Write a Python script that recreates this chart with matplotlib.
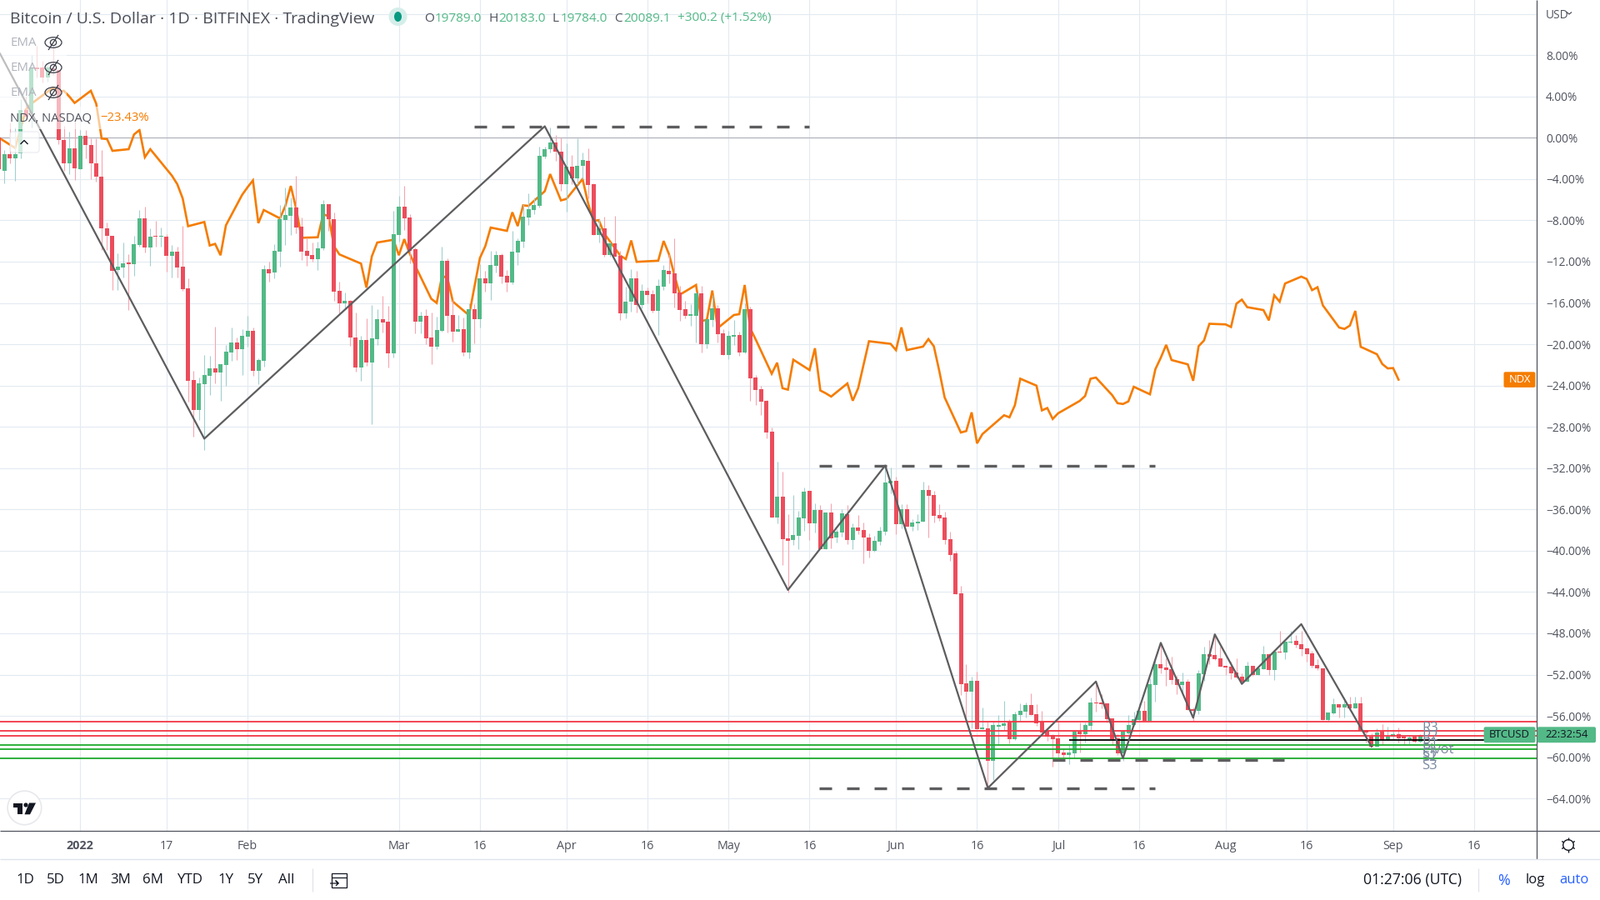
import numpy as np
import matplotlib
matplotlib.use("Agg")
import matplotlib.pyplot as plt
from matplotlib.patches import Rectangle, FancyBboxPatch, Circle, Ellipse, Polygon

# ---------- data (percent change, day 0 = 1 Jan 2022) ----------
first_day = -15
opens = [0,-3.18,-1.56,-2.02,-1.5,2.72,2.35,6.79,6.79,5.82,6.74,6.52,-0.19,-2.51,-1.0,-3.07,0.22,-0.67,-2.45,-3.75,-8.79,-9.51,-12.8,-12.53,-12.16,-12.21,-10.35,-7.79,-10.67,-9.57,-9.62,-9.57,-11.4,-11.02,-12.48,-14.58,-23.48,-26.36,
-23.84,-23.03,-22.34,-22.71,-21.99,-20.78,-19.84,-20.48,-19.27,-18.71,-22.58,-21.58,-12.75,-13.07,-11.06,-8.0,-7.6,-6.79,-8.64,-10.98,-11.38,-11.79,-10.74,-6.47,-7.92,-14.85,-16.05,-15.81,-19.36,-22.26,-19.6,-21.77,-19.52,-17.58,-17.83,
-20.89,-9.45,-6.71,-7.76,-10.82,-17.83,-17.26,-19.36,-20.24,-18.71,-11.95,-17.18,-18.79,-18.55,-20.81,-16.62,-17.58,-13.64,-14.12,-12.43,-11.38,-13.4,-14.04,-11.14,-10.09,-7.76,-7.03,
-6.6,-1.81,-1.11,-0.47,-1.31,-4.51,-2.84,-3.9,-2.7,-2.23,
-4.5,-9.43,-8.79,-11.37,-10.24,-11.46,-17.04,-15.9,-13.64,-16.23,-14.85,-15.18,-16.79,-14.45,-12.91,-13.15,-15.01,-16.63,-17.28,-17.28,-15.09,-20.03,-17.68,-16.55,-18.98,-21.08,-19.3,-19.14,-20.84,-16.63,
-23.24,-24.37,-25.5,-28.49,-36.81,-34.79,-38.83,-38.99,-38.58,-36.89,-34.22,-37.37,-36.08,-39.88,-36.32,-38.75,-38.26,-36.48,-38.99,-37.78,-38.02,-38.75,-40.04,-39.15,-38.18,-33.5,-33.25,-37.45,-36.0,-37.7,-37.37,-37.21,-34.14,
-34.64,-36.58,-36.82,-38.92,-40.29,-44.09,-52.81,-53.62,-52.57,-57.25,-57.17,-60.32,-57.01,-56.93,-56.52,-58.22,-55.88,-55.55,-54.91,-55.8,-56.52,-57.41,-57.81,-58.14,-59.51,-59.75,-59.59,-57.49,-57.73,-56.93,-54.67,-54.67,-54.75,-56.2,-58.14,-59.59,-57.65,
-56.86,-56.37,-55.48,-56.45,-52.98,-50.96,-51.28,-51.45,-52.41,-52.98,-52.66,-55.32,-55.48,-51.93,-49.99,-50.07,-50.4,-51.12,-51.2,-51.77,-52.17,-52.66,-51.12,-52.01,-51.45,-49.99,-51.53,-49.75,-49.83,-48.86,-48.7,-49.02,-49.43,-49.91,-51.04,-51.36,-56.37,-55.73,-54.84,-55.16,-54.84,-55.24,-54.76,-57.34,-57.99,-58.96,-57.5,-58.31,-57.99,-57.74,-57.99,-58.34,-58.01,-58.5]
closes = [-3.07,-1.56,-2.02,-1.56,2.72,2.08,6.79,6.68,5.82,6.79,6.52,-0.24,-2.51,-1.0,-2.99,0.22,-0.73,-2.51,-3.8,-8.81,-9.51,-12.86,-12.48,-12.16,-12.21,-10.32,-7.79,-10.67,-9.57,-9.62,-9.57,-11.4,-11.02,-12.53,-14.64,-23.53,-26.36,-23.8,
-22.98,-22.34,-22.71,-21.96,-20.72,-19.84,-20.48,-19.19,-18.71,-22.58,-21.53,-12.75,-13.13,-10.98,-7.92,-7.52,-6.79,-8.72,-11.06,-11.46,-11.79,-10.74,-6.47,-7.92,-14.93,-16.05,-15.81,-19.36,-22.26,-19.6,-21.77,-19.44,-17.58,-17.91,-20.89,
-9.37,-6.71,-7.84,-10.98,-17.83,-17.26,-19.44,-20.24,-18.63,-11.95,-17.26,-18.79,-18.55,-20.81,-16.62,-17.58,-13.64,-14.12,-12.35,-11.38,-13.48,-14.04,-11.06,-10.01,-7.68,-6.95,-6.55,
-1.75,-1.11,-0.47,-1.31,-4.51,-2.84,-3.9,-2.7,-2.17,-4.6,
-9.43,-8.79,-11.37,-10.24,-11.54,-17.04,-15.9,-13.64,-16.23,-14.85,-15.26,-16.79,-14.37,-12.83,-13.23,-15.09,-16.71,-17.28,-17.12,-15.09,-20.03,-17.6,-16.55,-19.06,-21.08,-19.22,-19.14,-20.84,-16.63,-23.34,
-24.45,-25.58,-28.57,-36.81,-34.79,-38.91,-39.07,-38.5,-36.81,-34.3,-37.37,-36.08,-39.88,-36.32,-38.83,-38.18,-36.4,-38.99,-37.78,-38.1,-38.75,-40.04,-39.07,-38.1,-33.42,-33.25,-37.45,-36.0,-37.7,-37.29,-37.21,-34.14,-34.71,
-36.66,-36.9,-39.0,-40.45,-44.17,-52.89,-53.62,-52.57,-57.25,-57.17,-60.32,-56.85,-56.85,-56.68,-58.22,-55.8,-55.47,-54.91,-55.88,-56.68,-57.57,-57.98,-58.22,-59.59,-59.75,-59.51,-57.49,-57.73,-56.85,-54.67,-54.75,-54.83,-56.28,-58.22,-59.59,-57.49,-56.85,
-56.29,-55.48,-56.45,-52.9,-50.96,-51.36,-51.53,-52.5,-52.98,-52.66,-55.4,-55.48,-51.85,-49.99,-50.23,-50.48,-51.2,-51.28,-51.85,-52.25,-52.66,-51.12,-52.01,-51.36,-49.99,-51.53,-49.75,-49.83,-48.78,-48.78,-49.1,-49.51,-49.99,-51.12,-51.36,-56.37,-55.64,-54.84,-55.16,-54.84,-55.24,-54.76,-57.42,-57.61,-58.96,-57.58,-58.31,-57.99,-57.74,-58.15,-58.15,-58.07,-58.5,-57.82]
highs = [0.2,-1.2,1.5,1.0,3.7,3.96,8.0,8.87,7.47,7.2,8.81,6.66,1.13,0.59,1.54,0.73,0.78,-0.03,-0.03,-1.16,-8.17,-9.51,-11.21,-10.13,-11.27,-9.49,-6.98,-6.66,-8.76,-8.03,-8.71,-9.3,-10.38,-10.59,-8.52,-13.61,-22.59,-23.26,
-21.05,-21.15,-18.28,-21.96,-20.08,-18.36,-19.36,-18.55,-17.26,-18.42,-21.37,-12.32,-11.97,-10.31,-6.55,-4.78,-5.8,-3.73,-7.76,-9.69,-10.17,-10.09,-6.07,-6.47,-7.28,-13.96,-15.01,-15.73,-16.94,-19.17,-17.5,-16.21,-16.62,-15.33,-16.3,
-7.09,-5.66,-4.62,-7.44,-10.66,-16.86,-16.62,-16.94,-17.34,-10.58,-11.7,-15.73,-17.18,-17.42,-16.05,-16.13,-12.24,-12.91,-10.98,-10.98,-11.22,-12.83,-9.05,-9.77,-6.47,-5.42,-5.8,
-0.9,-0.84,0.97,0.28,0.0,-0.56,-1.67,-0.06,-1.39,-1.06,
-4.42,-7.9,-7.65,-10.08,-7.57,-10.97,-14.45,-12.75,-12.91,-14.2,-14.53,-14.77,-13.72,-12.35,-11.29,-9.76,-14.37,-15.82,-16.15,-14.93,-14.37,-17.6,-15.26,-16.23,-18.57,-18.73,-17.68,-18.81,-16.06,-16.39,
-23.0,-24.05,-25.42,-28.09,-31.4,-32.37,-36.46,-34.63,-36.16,-33.9,-34.22,-35.43,-35.6,-36.32,-35.43,-37.94,-36.0,-35.6,-37.37,-36.57,-37.29,-38.34,-38.58,-37.7,-31.88,-31.96,-32.85,-35.52,-35.52,-36.97,-36.48,-33.34,-33.66,
-34.23,-35.53,-36.25,-38.19,-40.05,-43.44,-50.95,-52.16,-51.68,-55.15,-56.52,-56.44,-55.88,-54.5,-56.28,-55.55,-54.75,-54.67,-53.78,-54.83,-55.47,-57.17,-57.73,-56.52,-59.11,-58.7,-57.33,-56.6,-56.6,-54.18,-52.89,-53.86,-54.75,-56.2,-57.73,-57.33,-55.88,
-55.59,-54.78,-54.51,-52.36,-50.42,-49.0,-50.42,-50.23,-52.09,-51.77,-52.41,-55.19,-51.53,-49.27,-48.67,-48.11,-49.27,-51.12,-50.75,-50.42,-51.88,-50.72,-51.12,-51.15,-49.18,-49.94,-49.67,-47.73,-48.78,-47.73,-48.19,-47.78,-49.4,-49.67,-50.48,-51.36,-55.64,-54.27,-54.84,-54.25,-54.11,-54.11,-54.11,-57.34,-57.69,-57.21,-56.78,-57.02,-57.47,-57.1,-57.99,-57.96,-57.96,-57.74]
lows = [-4.1,-4.4,-2.45,-4.2,-1.97,1.8,1.0,5.85,5.36,5.44,6.1,-0.62,-3.23,-3.5,-4.12,-3.07,-2.02,-3.99,-4.26,-10.86,-10.86,-14.77,-14.77,-13.56,-16.66,-13.34,-10.59,-11.08,-12.37,-10.59,-10.54,-12.96,-13.5,-13.56,-14.82,-25.55,-28.92,-27.3,
-30.23,-24.91,-23.79,-25.45,-24.0,-21.58,-21.56,-22.98,-20.24,-23.03,-23.87,-22.17,-13.93,-13.64,-12.51,-10.42,-9.42,-9.29,-11.87,-12.43,-12.03,-12.83,-10.9,-9.02,-15.81,-17.02,-16.54,-20.16,-22.66,-23.54,-22.09,-27.73,-20.08,-18.87,-22.26,
-21.29,-10.09,-8.97,-12.19,-18.95,-18.95,-20.0,-21.93,-20.48,-18.79,-18.87,-19.76,-18.79,-21.13,-21.37,-19.92,-18.39,-14.93,-15.73,-13.07,-14.12,-14.93,-14.2,-12.35,-10.66,-8.48,-7.44,
-6.79,-2.0,-1.39,-2.2,-5.15,-7.19,-4.46,-4.46,-4.0,-5.85,
-9.43,-10.16,-11.54,-11.54,-11.54,-17.68,-17.52,-16.87,-16.95,-16.55,-16.06,-16.95,-19.14,-14.77,-14.12,-16.47,-17.76,-17.52,-18.25,-19.87,-20.84,-20.43,-18.33,-19.87,-21.08,-21.48,-20.11,-21.16,-20.92,-25.48,
-25.91,-26.87,-29.14,-36.81,-37.35,-41.41,-44.05,-39.47,-39.88,-38.1,-38.99,-38.26,-39.88,-39.88,-39.8,-39.23,-38.66,-39.39,-39.88,-38.42,-41.25,-40.68,-40.12,-39.47,-38.5,-34.47,-38.42,-37.86,-37.7,-38.1,-38.02,-37.21,-38.75,
-37.28,-37.14,-39.4,-40.94,-44.17,-53.94,-56.12,-57.2,-57.25,-57.25,-62.98,-62.18,-58.81,-57.33,-58.62,-58.3,-56.52,-56.12,-55.88,-56.93,-57.73,-58.38,-60.88,-60.08,-60.08,-60.64,-60.0,-59.51,-58.54,-57.41,-55.55,-55.23,-56.6,-58.81,-59.75,-60.32,-57.73,
-56.94,-56.45,-56.45,-56.45,-54.65,-51.9,-53.11,-52.9,-53.92,-53.71,-55.4,-56.48,-55.81,-52.58,-51.01,-50.61,-51.23,-52.04,-52.41,-52.36,-52.9,-52.71,-52.09,-52.04,-51.45,-52.01,-52.5,-49.83,-50.48,-49.0,-49.35,-50.15,-50.75,-51.28,-51.55,-56.37,-56.45,-55.81,-56.13,-56.13,-55.24,-55.24,-57.42,-58.55,-58.96,-59.01,-58.77,-58.39,-58.28,-58.55,-58.77,-58.77,-58.55,-58.55]

ndx_days = [-15,-12,-11,-10,-9,-5,-4,-3,-2,-1,2,3,4,5,6,9,10,11,12,13,17,18,19,20,23,24,25,26,27,30,31,32,33,34,37,38,39,40,41,44,45,46,47,48,52,53,54,55,58,59,60,61,62,65,66,67,68,69,72,73,74,75,76,79,80,81,82,83,86,87,88,89,90,93,94,95,96,97,100,101,102,103,107,108,109,110,111,114,115,116,117,118,121,122,123,124,125,128,129,130,131,132,135,136,137,138,139,142,143,144,145,146,150,151,152,153,156,157,158,159,160,163,164,165,166,167,171,172,173,174,177,178,179,180,181,185,186,187,188,191,192,193,194,195,198,199,200,201,202,205,206,207,208,209,212,213,214,215,216,219,220,221,222,223,226,227,228,229,230,233,234,235,236,237,240,241,242,243,244]
ndx_vals = [0.0,-1.0,0.86,2.75,3.3,4.85,4.45,4.55,4.0,3.37,4.55,3.29,-0.08,-0.13,-1.27,-1.11,0.32,0.75,-1.89,-1.11,-3.67,-4.5,-5.88,-8.57,-8.16,-10.44,-10.28,-11.38,-8.48,-5.53,-4.8,-4.13,-8.27,-7.0,-7.81,-6.6,-4.67,-6.87,-9.69,-9.64,-7.41,-7.6,-10.5,-11.3,-12.19,-14.52,-11.49,-10.15,-9.88,-11.38,-9.82,-11.2,-12.37,-15.6,-16.0,-13.37,-13.6,-15.87,-17.2,-14.4,-11.65,-10.5,-8.7,-9.02,-7.22,-8.56,-6.55,-6.6,-5.18,-3.52,-4.8,-6.07,-5.93,-4.0,-6.3,-8.06,-7.98,-9.27,-11.43,-11.75,-9.95,-12.02,-11.91,-10.0,-11.29,-13.3,-15.2,-14.26,-17.76,-17.63,-14.8,-18.44,-17.17,-17.09,-14.26,-18.44,-19.5,-22.86,-21.79,-24.26,-24.4,-21.5,-22.5,-20.39,-24.48,-24.75,-25.07,-23.8,-25.47,-24.26,-21.99,-19.71,-19.96,-20.57,-18.37,-20.57,-20.23,-19.5,-20.19,-22.56,-25.15,-28.55,-28.41,-26.6,-29.6,-28.7,-26.88,-27.08,-25.91,-23.34,-24.01,-26.41,-26.18,-27.24,-26.69,-25.49,-25.01,-23.34,-23.23,-24.93,-25.71,-25.79,-25.54,-24.12,-24.85,-22.42,-21.31,-20.06,-21.53,-21.95,-23.54,-20.19,-19.64,-18.02,-18.08,-18.33,-16.07,-15.68,-16.41,-16.69,-17.69,-15.26,-15.88,-14.12,-13.45,-13.68,-14.76,-14.48,-16.24,-18.38,-18.52,-18.19,-16.77,-20.25,-20.97,-21.92,-22.34,-22.31,-23.43]

zig_days = [-14.8,23,86,131,149,168,188,193,200,206,210,215,226,239]
zig_vals = [8.14,-29.15,1.11,-43.8,-31.75,-62.98,-52.67,-60.1,-48.92,-56.18,-48.1,-52.9,-47.11,-58.96]

dash_levels = [1.11,-31.75,-62.98,-60.27]
dash_starts = [72.9,136.8,136.8,180]
dash_ends = [135,198.9,198.9,222.9]

resistance = [-56.54,-57.43,-57.93]
support = [-58.82,-59.2,-60.07]
pivot_level = -58.31
pivot_start, pivot_end = 183, 259.8

x_ticks = [0,16,31,59,74,90,105,120,135,151,166,181,196,212,227,243,258]
x_labels = ["2022","17","Feb","Mar","16","Apr","16","May","16","Jun","16","Jul","16","Aug","16","Sep","16"]
y_ticks = [12,8,4,0,-4,-8,-12,-16,-20,-24,-28,-32,-36,-40,-44,-48,-52,-56,-60,-64]
y_labels = ["USD","8.00%","4.00%","0.00%","\u22124.00%","\u22128.00%","\u221212.00%","\u221216.00%","\u221220.00%","\u221224.00%","\u221228.00%","\u221232.00%","\u221236.00%","\u221240.00%","\u221244.00%","\u221248.00%","\u221252.00%","\u221256.00%","\u221260.00%","\u221264.00%"]

range_buttons = ["1D","5D","1M","3M","6M","YTD","1Y","5Y","All"]
pivot_names = ["R3","R2","R1","Pivot","S1","S2","S3"]

# ---------- style ----------
FONT = "Open Sans"
plt.rcParams["font.family"] = FONT
UP, DOWN = "#53b987", "#eb4d5c"
UPW, DOWNW = "#a3cfcf", "#f5a5b0"
TXT = "#50535e"
GRID = "#e3ebf1"
ORANGE = "#f57c00"
ZIG = "#5d5d5f"

fig = plt.figure(figsize=(19.2, 10.8), dpi=100, facecolor="white")
AX_R, AX_B = 1843.6, 997.0
ax = fig.add_axes([0, 1 - AX_B / 1080, AX_R / 1920, AX_B / 1080])
ax.set_xlim(-14.81, 269.5)
ax.set_ylim(-67.13, 13.34)
for s in ax.spines.values():
    s.set_visible(False)
ax.set_axisbelow(True)
ax.grid(True, color=GRID, lw=0.8)
ax.yaxis.tick_right()
ax.set_yticks(y_ticks)
ax.set_yticklabels(y_labels, fontsize=9.9, color=TXT)
ax.set_xticks(x_ticks)
ax.set_xticklabels(x_labels, fontsize=10.3, color=TXT)
ax.get_xticklabels()[0].set_fontweight("bold")
ax.tick_params(axis="both", length=0)
ax.tick_params(axis="y", pad=8.2)
ax.tick_params(axis="x", pad=7.6)

o, h, l, c = map(np.array, (opens, highs, lows, closes))
days = np.arange(first_day, first_day + len(o))
up = c >= o

ax.axhline(0, color="#b2b5be", lw=0.9, zorder=1.5)
ax.plot(ndx_days, ndx_vals, color=ORANGE, lw=1.9, zorder=2, solid_joinstyle="miter")
ax.vlines(days, l, h, colors=np.where(up, UPW, DOWNW).tolist(), lw=0.8, zorder=3)
ax.bar(days, np.maximum(np.abs(c - o), 0.09), bottom=np.minimum(o, c), width=0.77,
       color=np.where(up, UP, DOWN).tolist(), linewidth=0, zorder=4)
for v in resistance:
    ax.axhline(v, color="#f23645", lw=1.3, zorder=5)
for v in support:
    ax.axhline(v, color="#1eab2d", lw=1.3, zorder=5)
ax.hlines(pivot_level, pivot_start, pivot_end, color="black", lw=1.3, zorder=5)
ax.plot(zig_days, zig_vals, color=ZIG, lw=1.6, zorder=6)
for v, a, b in zip(dash_levels, dash_starts, dash_ends):
    ax.hlines(v, a, b, color=ZIG, lw=2.4, linestyles=(0, (4.5, 5.4)), zorder=6)

# ---------- overlay in screen pixels ----------
ov = fig.add_axes([0, 0, 1, 1], facecolor="none")
ov.set_xlim(0, 1920)
ov.set_ylim(1080, 0)
ov.axis("off")

def T(x, y, s, size=10, color=TXT, ha="left", **kw):
    ov.text(x, y, s, fontsize=size, color=color, ha=ha, va="center", **kw)

def L(xs, ys, color=TXT, lw=0.8, **kw):
    ov.plot(xs, ys, color=color, lw=lw, solid_capstyle="butt", **kw)

def box(x0, y0, x1, y1, fc, ec="none", r=2.0, lw=0.8, alpha=None, z=3):
    ov.add_patch(FancyBboxPatch((x0, y0), x1 - x0, y1 - y0, boxstyle=f"round,pad=0,rounding_size={r}",
                                fc=fc, ec=ec, lw=lw, alpha=alpha, zorder=z))

# frame
L([0, 1920], [997, 997], color=TXT, lw=0.9)
L([AX_R, AX_R], [0, 1031], color=TXT, lw=0.9)
L([0, 1920], [1031, 1031], color="#e0e3eb", lw=1.0)

# legend fades
ov.add_patch(Rectangle((0, 36), 80, 92, fc="white", ec="none", alpha=0.6, zorder=1))
ov.add_patch(Rectangle((0, 128), 183, 27, fc="white", ec="none", alpha=0.6, zorder=1))

T(12, 22.5, "Bitcoin / U.S. Dollar \u00b7 1D \u00b7 BITFINEX \u00b7 TradingView", size=14.0, color="#4a4d57")
ov.add_patch(Circle((477.5, 20), 11, fc="#d5eeea", ec="none"))
ov.add_patch(Ellipse((477.5, 20), 9, 12, fc="#089981", ec="none"))
OHLC_U = "#53b987"
for x, s, col in [(509.5, "O", TXT), (521.7, "19789.0", OHLC_U), (586.6, "H", TXT), (598.3, "20183.0", OHLC_U),
                  (663, "L", TXT), (672.4, "19784.0", OHLC_U), (736.7, "C", TXT), (748.3, "20089.1", OHLC_U),
                  (812.6, "+300.2 (+1.52%)", OHLC_U)]:
    T(x, 22, s, size=11.1, color=col)
for y in (51, 81, 111):
    T(12, y + 0.7, "EMA", size=10.8, color="#b2b5be")
    ov.add_patch(Ellipse((64, y), 20, 12.5, fc="none", ec="#3a3d47", lw=0.9, zorder=4))
    ov.add_patch(Circle((64, y), 3.6, fc="none", ec="#3a3d47", lw=0.9, zorder=4))
    L([58, 70], [y + 9, y - 9], color="#3a3d47", lw=0.9, zorder=4)
T(12, 141.5, "NDX, NASDAQ", size=10.7, color=TXT)
T(120, 141.5, "\u221223.43%", size=10.7, color=ORANGE)
box(12, 158, 47, 183, "white", ec="#e0e3eb", r=3, alpha=0.75)
L([24.5, 29, 33.5], [173, 168.5, 173], color="#131722", lw=1.0, zorder=5)

# pivot labels
for y, s in zip([874, 884, 893, 899.5, 904.6, 909, 919], pivot_names):
    T(1706, y, s, size=12, color="#7b8aa0", zorder=6)

# chevron on currency label
L([1880, 1883, 1886], [14.5, 17, 14.5], color=TXT, lw=0.9)

# price tags
box(1780.6, 872.3, 1842.4, 891.2, UP, z=7)
T(1811.5, 881.5, "BTCUSD", size=9.4, color="#131722", ha="center", zorder=8)
box(1844.6, 872.3, 1915, 891.2, UP, z=7)
T(1880, 881.5, "22:32:54", size=9.4, color="#131722", ha="center", zorder=8)
box(1804.5, 446.3, 1842.4, 464.9, ORANGE, z=7)
T(1823.5, 455.5, "NDX", size=9.4, color="white", ha="center", zorder=8)

# TradingView logo
ov.add_patch(Circle((29.4, 969.4), 20.3, fc="white", ec="#e7e8ec", lw=1.2, zorder=4))
for pts in ([(15.5, 963.5), (27, 963.5), (27, 977.3), (21, 977.3), (21, 969), (15.5, 969)],
            [(35, 963.5), (43, 963.5), (36, 977.3), (29.5, 977.3)]):
    ov.add_patch(Polygon(pts, closed=True, fc="#131722", ec="none", zorder=5))
ov.add_patch(Circle((31, 966), 2.6, fc="#131722", ec="none", zorder=5))

# gear
ov.add_patch(Circle((1882, 1014), 6.3, fc="none", ec="#131722", lw=1.0))
for a in np.deg2rad([90, 270, 30, 150, 210, 330]):
    L([1882 + 6.3 * np.cos(a), 1882 + 9 * np.cos(a)], [1014 + 6.3 * np.sin(a), 1014 + 9 * np.sin(a)], color="#131722", lw=1.0)

# bottom toolbar
for x, s in zip([30, 67, 106, 145, 184, 228, 270.6, 307, 344], range_buttons):
    T(x, 1056.5, s, size=12.2, color="#131722", ha="center")
L([375, 375], [1042, 1070], color="#e0e3eb", lw=0.9)
ov.add_patch(Rectangle((398, 1048), 18, 17, fc="none", ec="#131722", lw=0.9))
L([398, 416], [1053, 1053], color="#131722", lw=0.9)
L([396, 406, 403, 406, 403], [1060, 1060, 1057, 1060, 1063], color="#131722", lw=0.9)
T(1695, 1056.5, "01:27:06 (UTC)", size=12.7, color="#131722", ha="center")
L([1774, 1774], [1042, 1070], color="#e0e3eb", lw=0.9)
T(1804, 1056.5, "%", size=13, color="#2962ff", ha="center")
T(1842.4, 1056.5, "log", size=12, color="#131722", ha="center")
T(1889, 1056.5, "auto", size=12, color="#2962ff", ha="center")

fig.savefig("out.png", dpi=100, facecolor="white")
